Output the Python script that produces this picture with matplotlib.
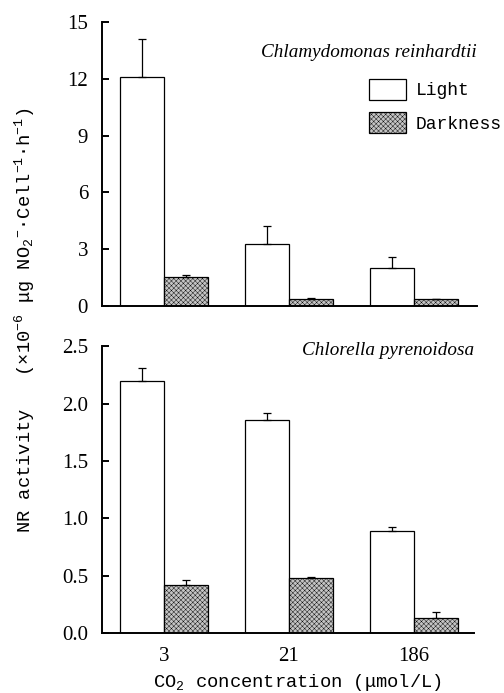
import numpy as np
import matplotlib
matplotlib.use("Agg")
import matplotlib.pyplot as plt
from matplotlib.patches import Patch

# ─────────────────────────────────────────────────────────────────────────────
# DATA
# ─────────────────────────────────────────────────────────────────────────────

CO2_LABELS = ["3", "21", "186"]

# Chlamydomonas reinhardtii (top)
CR_LIGHT     = [12.1, 3.26, 2.02]
CR_LIGHT_ERR = [1.98, 0.97, 0.58]
CR_DARK      = [1.55, 0.39, 0.35]
CR_DARK_ERR  = [0.11, 0.03, 0.03]

# Chlorella pyrenoidosa (bottom)
CP_LIGHT     = [2.20, 1.86, 0.89]
CP_LIGHT_ERR = [0.115, 0.06, 0.03]
CP_DARK      = [0.415, 0.48, 0.128]
CP_DARK_ERR  = [0.046, 0.005, 0.052]

TOP_TICKS = [0, 3, 6, 9, 12, 15]
BOT_TICKS = [0.0, 0.5, 1.0, 1.5, 2.0, 2.5]

# ─────────────────────────────────────────────────────────────────────────────
# Style
# ─────────────────────────────────────────────────────────────────────────────

plt.rcParams["font.family"] = ["Liberation Serif", "DejaVu Serif"]
plt.rcParams["mathtext.fontset"] = "custom"
plt.rcParams["mathtext.rm"] = "Liberation Mono"
plt.rcParams["mathtext.it"] = "Liberation Mono"
plt.rcParams["hatch.linewidth"] = 0.3
plt.rcParams["hatch.color"] = "#6e6e6e"

BAR_W = 0.35
DARK_FC = "#c4c4c4"
DARK_HATCH = "xxxxxxx"
TICK_FONT = dict(family="Liberation Serif", size=15)
LABEL_FONT = dict(family="Liberation Mono", size=13.5)


def draw_panel(ax, light, light_err, dark, dark_err, ticks, fmt):
    x = np.arange(len(CO2_LABELS))
    xl = x - BAR_W / 2
    xd = x + BAR_W / 2
    ax.bar(xl, light, BAR_W, color="white", edgecolor="black", linewidth=0.9, zorder=2)
    ax.bar(xd, dark, BAR_W, color=DARK_FC, edgecolor="black", linewidth=0.9,
           hatch=DARK_HATCH, zorder=2)
    ax.errorbar(xl, light, yerr=[np.zeros(len(light)), light_err], fmt="none",
                ecolor="black", elinewidth=0.9, capsize=3, capthick=0.9, zorder=3)
    ax.errorbar(xd, dark, yerr=[np.zeros(len(dark)), dark_err], fmt="none",
                ecolor="black", elinewidth=0.9, capsize=3, capthick=0.9, zorder=3)

    ax.set_ylim(ticks[0], ticks[-1])
    ax.set_yticks(ticks)
    ax.set_yticklabels([fmt(t) for t in ticks], fontdict=TICK_FONT)
    ax.set_xticks(x)
    for s in ["top", "right"]:
        ax.spines[s].set_visible(False)
    ax.spines["left"].set_linewidth(1.4)
    ax.spines["bottom"].set_linewidth(1.4)
    ax.tick_params(axis="y", direction="in", length=5, width=1.4, pad=10)
    ax.tick_params(axis="x", length=0)


fig = plt.figure(figsize=(5.04, 6.93), dpi=100)

ax1 = fig.add_axes([0.2024, 0.5584, 0.744, 0.41])
draw_panel(ax1, CR_LIGHT, CR_LIGHT_ERR, CR_DARK, CR_DARK_ERR, TOP_TICKS,
           lambda t: f"{t:d}")
ax1.set_xlim(-0.496, 2.504)
ax1.set_xticklabels([])
ax1.text(1.0, 0.894, "Chlamydomonas reinhardtii", transform=ax1.transAxes,
         ha="right", va="center", style="italic", fontsize=13.8)
handles = [Patch(facecolor="white", edgecolor="black", linewidth=0.9, label="Light"),
           Patch(facecolor=DARK_FC, edgecolor="black", linewidth=0.9, hatch=DARK_HATCH,
                 label="Darkness")]
ax1.legend(handles=handles, loc="upper left", bbox_to_anchor=(0.711, 0.80),
           frameon=False, prop=dict(family="Liberation Mono", size=13),
           handlelength=2.05, handleheight=1.45, handletextpad=0.55, labelspacing=0.65,
           borderaxespad=0, borderpad=0)

ax2 = fig.add_axes([0.2024, 0.0866, 0.738, 0.4137])
draw_panel(ax2, CP_LIGHT, CP_LIGHT_ERR, CP_DARK, CP_DARK_ERR, BOT_TICKS,
           lambda t: f"{t:.1f}")
ax2.set_xlim(-0.496, 2.48)
ax2.set_xticklabels(CO2_LABELS, fontdict=TICK_FONT)
ax2.tick_params(axis="x", pad=10)
ax2.text(1.0, 0.985, "Chlorella pyrenoidosa", transform=ax2.transAxes,
         ha="right", va="center", style="italic", fontsize=13.8)
ax2.set_xlabel("CO$_2$ concentration (μmol/L)", fontdict=LABEL_FONT)
ax2.xaxis.set_label_coords(0.525, -0.135)

fig.text(0.05, 0.538,
         "NR activity   (×10$^{-6}$ μg NO$_2$$^{-}$·Cell$^{-1}$·h$^{-1}$)",
         rotation=90, ha="center", va="center", **LABEL_FONT)

fig.savefig("out.png", dpi=100)
